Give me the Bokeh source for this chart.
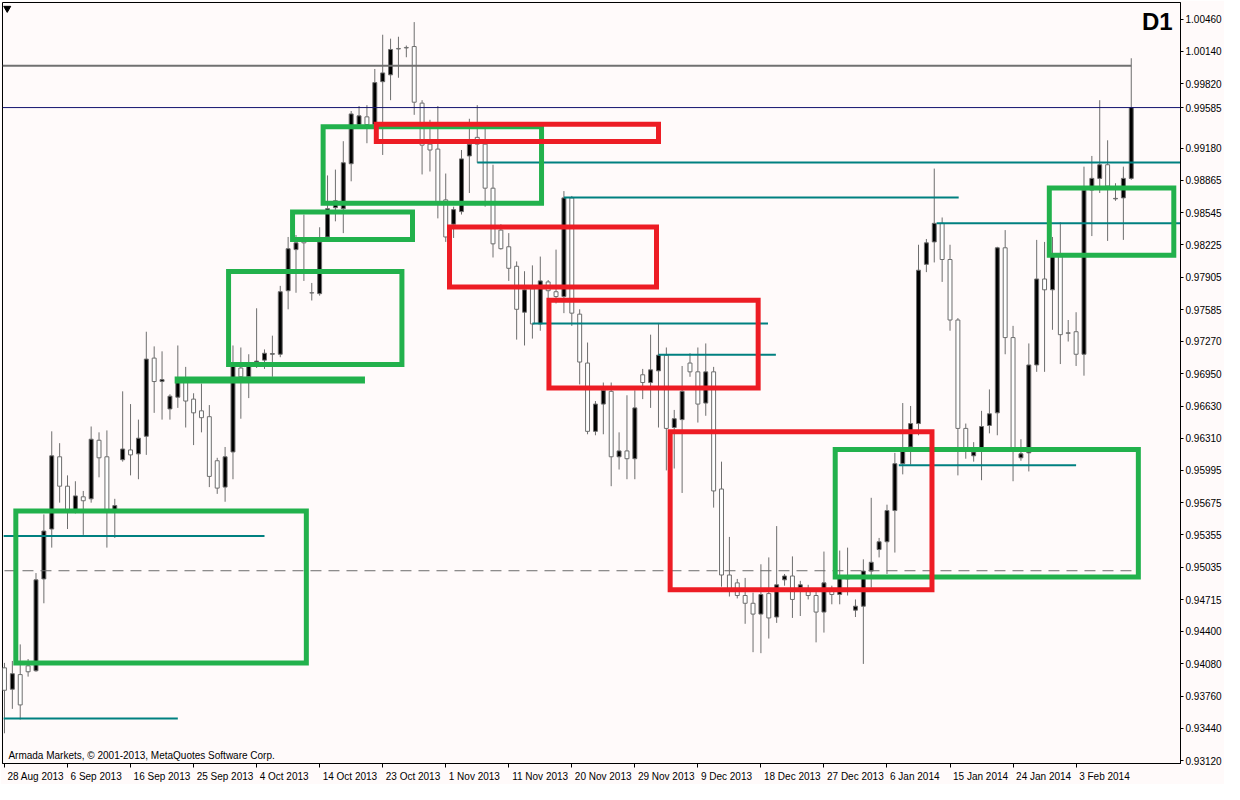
from bokeh.plotting import figure
from bokeh.models import (FixedTicker, PrintfTickFormatter, Label,
                          ColumnDataSource, Span, Range1d)
from bokeh.embed import file_html
from bokeh.resources import INLINE

# ---------------- data (D1 candles, bar index 0..143) ----------------
opens = [0.94039, 0.93827, 0.93972, 0.94059, 0.94010, 0.94919, 0.95413, 0.96128, 0.95837, 0.95596,
         0.95732, 0.95712, 0.96292, 0.96128, 0.95596, 0.96099, 0.96196, 0.96157, 0.96331, 0.97105,
         0.96873, 0.96602, 0.96718, 0.96892, 0.96699, 0.96583, 0.96525, 0.96089, 0.95828, 0.96176,
         0.97007, 0.96920, 0.97056, 0.97085, 0.97143, 0.97143, 0.97772, 0.98179, 0.98284, 0.97752,
         0.97743, 0.98304, 0.98594, 0.98584, 0.99029, 0.99416, 0.99493, 0.99416, 0.99841, 0.99909,
         1.00170, 1.00180, 1.00189, 0.99629, 0.99223, 0.99174, 0.98671, 0.98430, 0.98555, 0.99106,
         0.99290, 0.99223, 0.98787, 0.98372, 0.98207, 0.98014, 0.97559, 0.97791, 0.97443, 0.97859,
         0.97762, 0.97714, 0.98691, 0.97540, 0.97056, 0.96380, 0.96650, 0.96776, 0.96128, 0.96186,
         0.96109, 0.96940, 0.96863, 0.96979, 0.97134, 0.96418, 0.96496, 0.97056, 0.96969, 0.96660,
         0.96969, 0.95809, 0.94958, 0.94880, 0.94755, 0.94678, 0.94571, 0.94774, 0.94542, 0.94910,
         0.94948, 0.94832, 0.94794, 0.94755, 0.94591, 0.94823, 0.94765, 0.94919, 0.94610, 0.94649,
         0.94997, 0.95210, 0.95287, 0.95596, 0.96060, 0.96225, 0.96457, 0.98033, 0.98255, 0.98439,
         0.98081, 0.97482, 0.96409, 0.96138, 0.96196, 0.96438, 0.96563, 0.98197, 0.97308, 0.96118,
         0.96167, 0.97037, 0.97888, 0.97781, 0.98110, 0.97356, 0.97366, 0.97143, 0.98768, 0.98884,
         0.99019, 0.98681, 0.98691, 0.98884]
highs = [0.94088, 0.94107, 0.94271, 0.94126, 0.94977, 0.95558, 0.96380, 0.96263, 0.95944, 0.95886,
         0.95790, 0.96428, 0.96370, 0.96389, 0.95712, 0.96776, 0.96650, 0.96496, 0.97366, 0.97221,
         0.97172, 0.96747, 0.97230, 0.97018, 0.96757, 0.96853, 0.96640, 0.96118, 0.96225, 0.97230,
         0.97210, 0.97143, 0.97598, 0.97191, 0.97327, 0.97820, 0.98304, 0.98323, 0.98526, 0.97849,
         0.98400, 0.98913, 0.98971, 0.99252, 0.99551, 0.99600, 0.99609, 0.99967, 1.00306, 1.00267,
         1.00286, 1.00199, 1.00431, 0.99658, 0.99464, 0.99600, 0.98932, 0.98604, 0.99165, 0.99474,
         0.99609, 0.99387, 0.99019, 0.98430, 0.98342, 0.98062, 0.97965, 0.98023, 0.98110, 0.97878,
         0.98179, 0.98758, 0.98710, 0.97588, 0.97259, 0.96680, 0.96863, 0.96863, 0.96370, 0.96737,
         0.96786, 0.96998, 0.97337, 0.97453, 0.97210, 0.96592, 0.97027, 0.97153, 0.97210, 0.97250,
         0.97018, 0.96080, 0.95335, 0.94919, 0.94929, 0.94784, 0.95064, 0.95132, 0.95442, 0.94968,
         0.95142, 0.94900, 0.94861, 0.94813, 0.95190, 0.94852, 0.95200, 0.95229, 0.94716, 0.95113,
         0.95722, 0.95325, 0.95654, 0.96167, 0.96660, 0.96631, 0.98227, 0.98284, 0.98981, 0.98497,
         0.98227, 0.97501, 0.96457, 0.96273, 0.96583, 0.96795, 0.98207, 0.98372, 0.97424, 0.96302,
         0.97250, 0.98275, 0.98255, 0.98304, 0.98449, 0.97482, 0.97559, 0.99000, 0.99106, 0.99658,
         0.99261, 0.98836, 0.99000, 1.00073]
lows = [0.93391, 0.93633, 0.93527, 0.93952, 0.94000, 0.94678, 0.95229, 0.95674, 0.95413, 0.95567,
        0.95355, 0.95674, 0.95925, 0.95229, 0.95325, 0.96080, 0.95944, 0.95906, 0.96147, 0.96563,
        0.96496, 0.96496, 0.96612, 0.96418, 0.96244, 0.96370, 0.95828, 0.95761, 0.95683, 0.95906,
        0.96505, 0.96709, 0.97007, 0.96998, 0.96920, 0.97114, 0.97588, 0.97752, 0.97869, 0.97675,
        0.97723, 0.98294, 0.98459, 0.98342, 0.98855, 0.99396, 0.99232, 0.99290, 0.99116, 0.99658,
        0.99880, 1.00083, 0.99513, 0.98923, 0.98952, 0.98488, 0.98255, 0.98294, 0.98526, 0.98739,
        0.99039, 0.98604, 0.98101, 0.98179, 0.97869, 0.97288, 0.97230, 0.97298, 0.97376, 0.97694,
        0.97646, 0.97550, 0.97424, 0.96844, 0.96351, 0.96341, 0.96351, 0.95837, 0.96002, 0.95906,
        0.95906, 0.96699, 0.96612, 0.96418, 0.95993, 0.96012, 0.95770, 0.96920, 0.96467, 0.96534,
        0.95625, 0.94842, 0.94745, 0.94726, 0.94475, 0.94194, 0.94184, 0.94329, 0.94484, 0.94852,
        0.94533, 0.94552, 0.94716, 0.94291, 0.94388, 0.94668, 0.94668, 0.94755, 0.94542, 0.94078,
        0.94832, 0.95132, 0.94968, 0.95180, 0.95954, 0.96051, 0.96341, 0.97956, 0.98052, 0.97859,
        0.97376, 0.95944, 0.96109, 0.96080, 0.95896, 0.96360, 0.96341, 0.97143, 0.95886, 0.96089,
        0.95983, 0.96969, 0.96969, 0.97385, 0.97046, 0.97269, 0.97027, 0.96931, 0.98313, 0.98739,
        0.98265, 0.98662, 0.98275, 0.98870]
closes = [0.93817, 0.93981, 0.93672, 0.94000, 0.94910, 0.95393, 0.96138, 0.95837, 0.95587, 0.95741,
          0.95693, 0.96302, 0.96118, 0.95587, 0.95645, 0.96205, 0.96147, 0.96312, 0.97095, 0.96873,
          0.96892, 0.96728, 0.96882, 0.96680, 0.96563, 0.96515, 0.95934, 0.95818, 0.96128, 0.97046,
          0.96920, 0.97027, 0.97075, 0.97153, 0.97150, 0.97762, 0.98188, 0.98246, 0.98246, 0.97750,
          0.98255, 0.98584, 0.98662, 0.99039, 0.99522, 0.99503, 0.99416, 0.99832, 0.99928, 1.00160,
          1.00165, 1.00175, 0.99638, 0.99213, 0.99165, 0.98652, 0.98304, 0.98575, 0.99077, 0.99223,
          0.99223, 0.98787, 0.98236, 0.98188, 0.97994, 0.97588, 0.97781, 0.97443, 0.97869, 0.97772,
          0.97714, 0.98691, 0.97550, 0.97066, 0.96380, 0.96650, 0.96786, 0.96128, 0.96186, 0.96109,
          0.96612, 0.96863, 0.96989, 0.97134, 0.96409, 0.96505, 0.96776, 0.96969, 0.96650, 0.96969,
          0.95790, 0.94958, 0.94813, 0.94755, 0.94678, 0.94571, 0.94765, 0.94533, 0.94861, 0.94948,
          0.94716, 0.94861, 0.94755, 0.94591, 0.94880, 0.94765, 0.94929, 0.94939, 0.94649, 0.94997,
          0.95084, 0.95287, 0.95596, 0.96060, 0.96186, 0.96457, 0.97975, 0.98246, 0.98439, 0.98081,
          0.97482, 0.96409, 0.96196, 0.96176, 0.96428, 0.96554, 0.98197, 0.97308, 0.96205, 0.96157,
          0.97037, 0.97888, 0.97781, 0.98130, 0.97337, 0.97350, 0.97143, 0.98768, 0.98884, 0.99019,
          0.98807, 0.98686, 0.98884, 0.99585]

x_tick_bars = [0, 8, 16, 24, 32, 40, 48, 56, 64, 72, 80, 88, 96, 104, 112, 120, 128, 136]
x_tick_labels = ["28 Aug 2013", "6 Sep 2013", "16 Sep 2013", "25 Sep 2013", "4 Oct 2013",
                 "14 Oct 2013", "23 Oct 2013", "1 Nov 2013", "11 Nov 2013", "20 Nov 2013",
                 "29 Nov 2013", "9 Dec 2013", "18 Dec 2013", "27 Dec 2013", "6 Jan 2014",
                 "15 Jan 2014", "24 Jan 2014", "3 Feb 2014"]
y_ticks = [1.00460, 1.00140, 0.99820, 0.99500, 0.99180, 0.98865, 0.98545, 0.98225, 0.97905,
           0.97585, 0.97270, 0.96950, 0.96630, 0.96310, 0.95995, 0.95675, 0.95355, 0.95035,
           0.94715, 0.94400, 0.94080, 0.93760, 0.93440, 0.93120]

current_price = 0.99585
level_price = 1.00000
level_end_bar = 143
dash_price = 0.95000
dash_end_bar = 143.5

# support / resistance (teal) lines
teal_y = [0.93537, 0.95345, 0.99042, 0.98695, 0.98439, 0.97448, 0.97137, 0.96044]
teal_x0 = [-0.1, -0.1, 60.0, 71.0, 118.3, 67.0, 83.0, 113.5]
teal_x1 = [22.0, 33.0, 149.25, 121.1, 149.25, 96.9, 97.9, 136.0]

# green zones
green_left = [1.44, 28.44, 36.56, 40.44, 105.43, 132.6]
green_right = [38.31, 50.44, 51.78, 68.16, 143.9, 148.4]
green_top = [0.95591, 0.97961, 0.98550, 0.99395, 0.96201, 0.98789]
green_bottom = [0.94088, 0.97042, 0.98280, 0.98639, 0.94939, 0.98122]
green_bar_y = 0.96889
green_bar_x0 = 21.6
green_bar_x1 = 45.75

# red zones
red_left = [47.19, 56.48, 69.1, 84.48]
red_right = [83.0, 82.75, 95.65, 117.71]
red_top = [0.99421, 0.98403, 0.97678, 0.96375]
red_bottom = [0.99250, 0.97808, 0.96810, 0.94813]

# ---------------- figure ----------------
BG = "#FFFAFA"
GRAY = "#6E6E6E"
X0, X1 = -0.25, 149.25
Y0, Y1 = 0.93092, 1.00625
W, H = 1224, 784

p = figure(width=W, height=H, output_backend="svg", toolbar_location=None,
           x_range=Range1d(X0, X1), y_range=Range1d(Y0, Y1),
           y_axis_location="right",
           min_border_left=2, min_border_top=2, min_border_right=0, min_border_bottom=0,
           background_fill_color=BG, border_fill_color=BG)
p.xgrid.visible = False
p.ygrid.visible = False
p.outline_line_color = "black"
p.outline_line_width = 1

bars = list(range(len(opens)))
src = ColumnDataSource(dict(
    x=bars,
    high=highs,
    low=lows,
    top=[max(o, c) for o, c in zip(opens, closes)],
    bottom=[min(o, c) for o, c in zip(opens, closes)],
    fill=["black" if c >= o else "white" for o, c in zip(opens, closes)],
))
p.segment(x0="x", y0="low", x1="x", y1="high", source=src, line_color=GRAY, line_width=1)
p.vbar(x="x", top="top", bottom="bottom", width=0.5, source=src,
       fill_color="fill", line_color=GRAY, line_width=1)

# horizontal levels
p.segment(x0=[X0], y0=[level_price], x1=[level_end_bar], y1=[level_price],
          line_color="#707070", line_width=2)
p.add_layout(Span(location=current_price, dimension="width", line_color="#14146E", line_width=1))
p.segment(x0=[0], y0=[dash_price], x1=[dash_end_bar], y1=[dash_price],
          line_color="#6A6A6A", line_width=1, line_dash="11 7")

p.segment(x0=teal_x0, y0=teal_y, x1=teal_x1, y1=teal_y, line_color="#008080", line_width=2)

# zones
p.segment(x0=[green_bar_x0], y0=[green_bar_y], x1=[green_bar_x1], y1=[green_bar_y],
          line_color="#22B14C", line_width=7, line_cap="butt")
p.quad(left=green_left, right=green_right, top=green_top, bottom=green_bottom,
       fill_color=None, line_color="#22B14C", line_width=5, line_join="miter")
p.quad(left=red_left, right=red_right, top=red_top, bottom=red_bottom,
       fill_color=None, line_color="#ED1C24", line_width=5, line_join="miter")

# small menu triangle top-left
p.scatter(x=[0.35], y=[1.00567], marker="inverted_triangle", size=7, color="black")

# ---------------- axes ----------------
# price scale: regular levels plus the current-price tag (which hides the 0.99500 level)
scale_ticks = [t for t in y_ticks if abs(t - current_price) > 0.001] + [current_price]
yax = p.yaxis[0]
yax.ticker = FixedTicker(ticks=scale_ticks)
yax.formatter = PrintfTickFormatter(format="%.5f")
yax.major_label_text_font = "Liberation Sans"
yax.major_label_text_font_size = "10px"
yax.major_label_text_color = "black"
yax.major_tick_in = 0
yax.major_tick_out = 3
yax.major_tick_line_color = "black"
yax.minor_tick_line_color = None
yax.axis_line_color = "black"
yax.major_label_standoff = 2

# date labels: left-aligned after each tick -> major ticks (label anchors) at label centres,
# visible tick marks as minor ticks at the bar positions
char_w = {" ": 0.278, "A": 0.667, "u": 0.556, "g": 0.556, "S": 0.667, "e": 0.556, "p": 0.556,
          "O": 0.778, "c": 0.5, "t": 0.278, "N": 0.722, "o": 0.556, "v": 0.5, "D": 0.722,
          "J": 0.5, "a": 0.556, "n": 0.556, "F": 0.611, "b": 0.556}
approx_frame_w = W - 2 - 46
px_per_bar = approx_frame_w / (X1 - X0)
centres = []
for b, lab in zip(x_tick_bars, x_tick_labels):
    wpx = sum(char_w.get(ch, 0.556) for ch in lab) * 10
    centres.append(round(b + (3 + wpx / 2) / px_per_bar, 3))

xax = p.xaxis[0]
xax.ticker = FixedTicker(ticks=centres, minor_ticks=x_tick_bars)
xax.major_label_overrides = {c: lab for c, lab in zip(centres, x_tick_labels)}
xax.major_label_text_font = "Liberation Sans"
xax.major_label_text_font_size = "10px"
xax.major_label_text_color = "black"
xax.major_tick_in = 0
xax.major_tick_out = 0
xax.minor_tick_in = 0
xax.minor_tick_out = 4
xax.minor_tick_line_color = "black"
xax.axis_line_color = "black"
xax.major_label_standoff = 3

# timeframe + copyright
p.add_layout(Label(x=X1 - 1.0, y=Y1, y_offset=-5, text="D1", text_align="right",
                   text_baseline="top", text_font="Liberation Sans", text_font_style="bold",
                   text_font_size="24px", text_color="black"))
p.add_layout(Label(x=0.5, y=Y0, y_offset=3, text="Armada Markets, © 2001-2013, MetaQuotes Software Corp.",
                   text_align="left", text_baseline="bottom",
                   text_font="Liberation Sans", text_font_size="10px", text_color="black"))

open("out.html", "w").write(file_html(p, INLINE))
